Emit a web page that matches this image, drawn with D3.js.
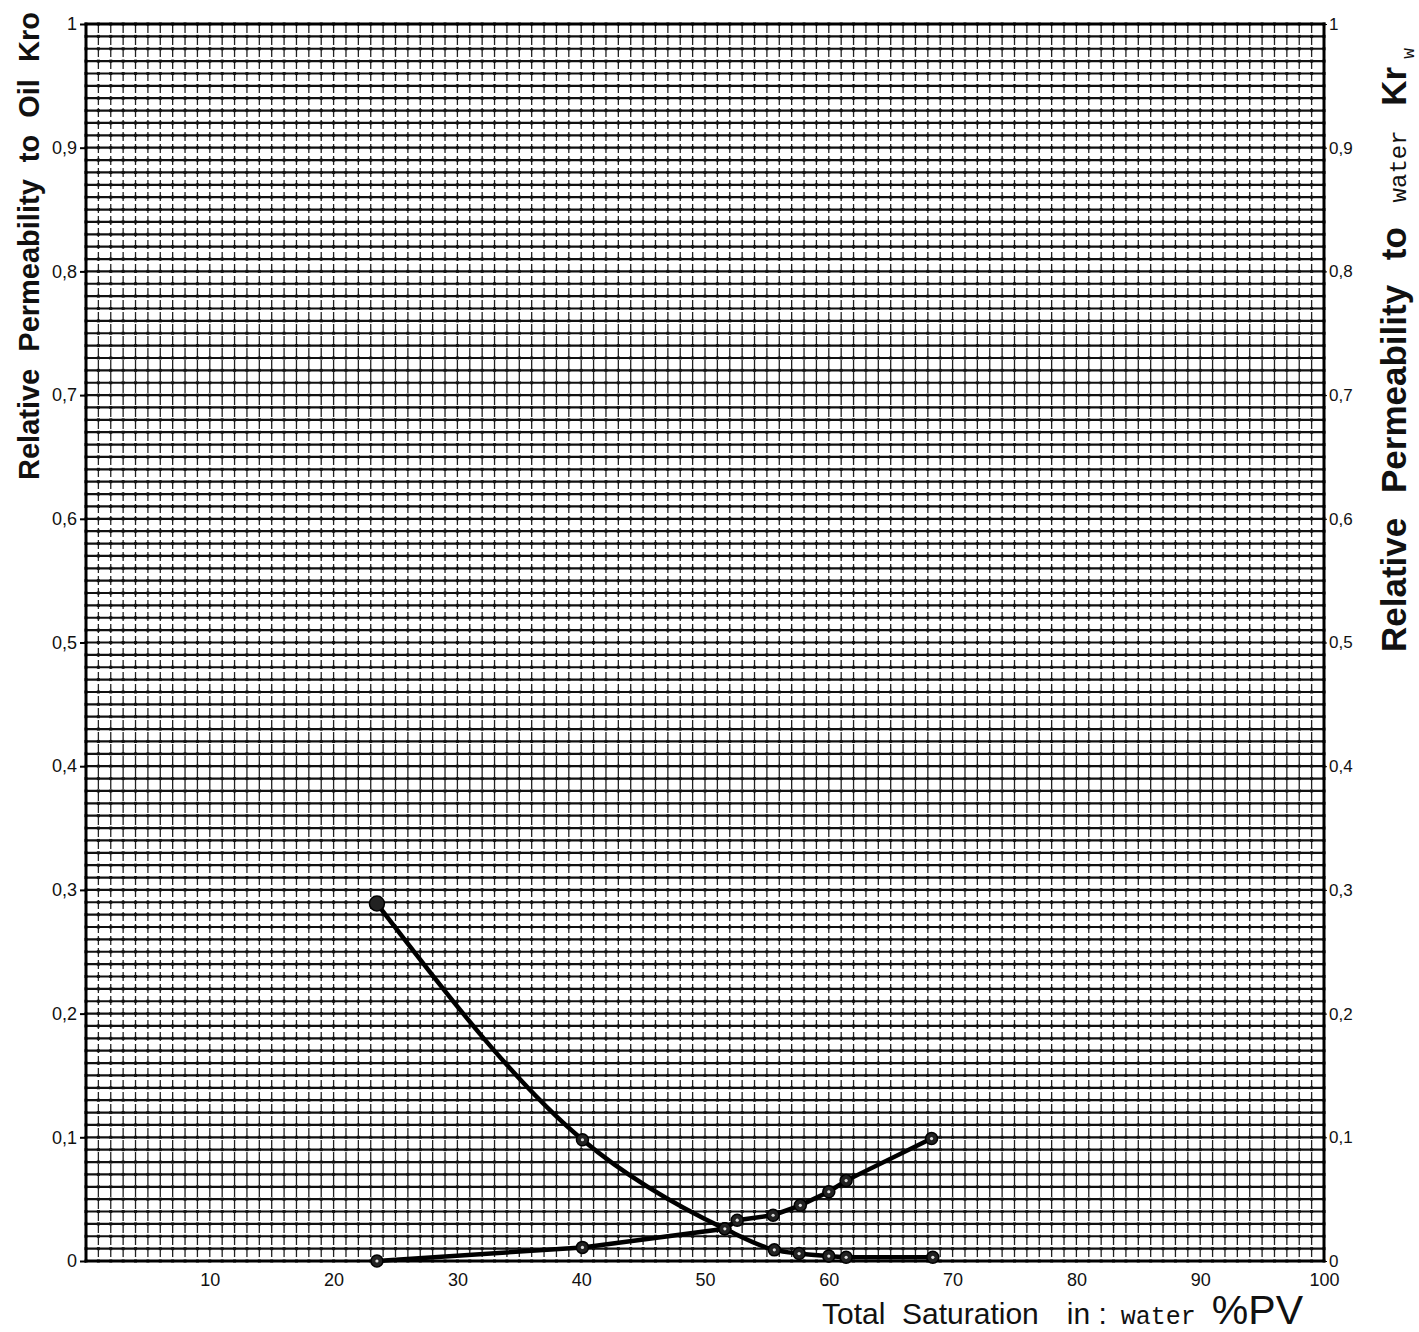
<!DOCTYPE html>
<html>
<head>
<meta charset="utf-8">
<title>Relative Permeability</title>
<script src="https://cdnjs.cloudflare.com/ajax/libs/d3/7.8.5/d3.min.js"></script>
<style>
  body { margin: 0; background: #fff; }
  text { fill: #111; }
</style>
</head>
<body>
<div id="chart"></div>
<script>
// values
var satOil = [23.5, 40.1, 51.6, 55.6, 57.6, 60.0, 61.4, 68.4];
var kro    = [0.289, 0.098, 0.026, 0.009, 0.006, 0.004, 0.003, 0.003];
var satWater = [23.5, 40.1, 51.6, 52.6, 55.5, 57.7, 60.0, 61.4, 68.3];
var krw      = [0.0, 0.011, 0.026, 0.033, 0.037, 0.045, 0.056, 0.065, 0.099];

var xTicks = [10, 20, 30, 40, 50, 60, 70, 80, 90, 100];
var yTicks = [0, 0.1, 0.2, 0.3, 0.4, 0.5, 0.6, 0.7, 0.8, 0.9, 1];

var W = 1419, H = 1332;
var margin = {top: 24, right: 95, bottom: 71, left: 86};
var width = W - margin.left - margin.right;
var height = H - margin.top - margin.bottom;

var svg = d3.select("#chart").append("svg")
    .attr("width", W).attr("height", H)
    .style("font-family", "'DejaVu Sans', sans-serif");

var g = svg.append("g").attr("transform", "translate(" + margin.left + "," + margin.top + ")");

var x = d3.scaleLinear().domain([0, 100]).range([0, width]);
var y = d3.scaleLinear().domain([0, 1]).range([height, 0]);

var fmt = function(v) {
  if (v === 0 || v === 1) return String(v);
  return d3.format(".1f")(v).replace(".", ",");
};

// graph paper grid, 1% by 0.01
var steps = d3.range(0, 101);
g.append("g").selectAll("line").data(steps).enter().append("line")
  .attr("x1", function(d) { return x(d); }).attr("x2", function(d) { return x(d); })
  .attr("y1", 0).attr("y2", height)
  .attr("stroke", "#222").attr("stroke-width", 1.3)
  .attr("stroke-dasharray", "9,3");
g.append("g").selectAll("line").data(steps).enter().append("line")
  .attr("y1", function(d) { return y(d / 100); }).attr("y2", function(d) { return y(d / 100); })
  .attr("x1", 0).attr("x2", width)
  .attr("stroke", "#111").attr("stroke-width", 2.2);

// knots at the crossings
var knots = [];
steps.forEach(function(i) { steps.forEach(function(j) { knots.push([i, j]); }); });
g.append("g").selectAll("rect").data(knots).enter().append("rect")
  .attr("x", function(d) { return x(d[0]) - 1.5; })
  .attr("y", function(d) { return y(d[1] / 100) - 1.5; })
  .attr("width", 3).attr("height", 3).attr("fill", "#111");

// frame
g.append("rect").attr("width", width).attr("height", height)
  .attr("fill", "none").attr("stroke", "#000").attr("stroke-width", 3);

// left axis
var yAxisL = d3.axisLeft(y).tickValues(yTicks).tickFormat(fmt).tickSize(6).tickPadding(3);
g.append("g").call(yAxisL)
  .call(function(s) { s.select(".domain").remove(); })
  .call(function(s) { s.selectAll("text").style("font-size", "18px").attr("fill", "#111"); s.selectAll("line").attr("stroke-width", 2); });

// right axis
var yAxisR = d3.axisRight(y).tickValues(yTicks).tickFormat(fmt).tickSize(3).tickPadding(2);
g.append("g").attr("transform", "translate(" + width + ",0)").call(yAxisR)
  .call(function(s) { s.select(".domain").remove(); })
  .call(function(s) { s.selectAll("text").style("font-size", "17px").attr("fill", "#222"); });

// bottom axis
var xAxis = d3.axisBottom(x).tickValues(xTicks).tickSize(0).tickPadding(12);
g.append("g").attr("transform", "translate(0," + height + ")").call(xAxis)
  .call(function(s) { s.select(".domain").remove(); })
  .call(function(s) { s.selectAll("text").style("font-size", "18px").attr("fill", "#222"); });

// curves
var oilPts = satOil.map(function(s, i) { return [s, kro[i]]; });
var waterPts = satWater.map(function(s, i) { return [s, krw[i]]; });

var line = d3.line()
  .x(function(d) { return x(d[0]); })
  .y(function(d) { return y(d[1]); })
  .curve(d3.curveMonotoneX);

g.append("path").datum(oilPts).attr("d", line)
  .attr("fill", "none").attr("stroke", "#000").attr("stroke-width", 4.5);
g.append("path").datum(waterPts).attr("d", line.curve(d3.curveLinear))
  .attr("fill", "none").attr("stroke", "#000").attr("stroke-width", 4.5);

function markers(pts, big) {
  var m = g.append("g").selectAll("g").data(pts).enter().append("g")
    .attr("transform", function(d) { return "translate(" + x(d[0]) + "," + y(d[1]) + ")"; });
  m.append("circle")
    .attr("r", function(d, i) { return (big && i === 0) ? 7.5 : 6; })
    .attr("fill", "#222").attr("stroke", "#000").attr("stroke-width", 1.5);
  m.filter(function(d, i) { return !(big && i === 0); }).append("circle")
    .attr("r", 1.6).attr("fill", "#ddd");
}
markers(oilPts, true);
markers(waterPts, false);

// axis titles
svg.append("text")
  .attr("transform", "translate(39,480) rotate(-90)")
  .style("font-family", "'Liberation Sans', Arial, sans-serif")
  .style("font-weight", "bold").style("font-size", "29px")
  .style("word-spacing", "9px")
  .text("Relative Permeability to Oil Kro");

var rt = svg.append("text")
  .attr("transform", "translate(1406,652) rotate(-90)")
  .style("font-family", "'Liberation Sans', Arial, sans-serif")
  .style("font-weight", "bold").style("font-size", "35px")
  .style("word-spacing", "15px")
  .attr("xml:space", "preserve");
rt.append("tspan").text("Relative Permeability to ");
rt.append("tspan").style("font-family", "'Liberation Mono', monospace").style("font-weight", "normal")
  .style("font-size", "24px").text("water");
rt.append("tspan").text(" Kr");
rt.append("tspan").style("font-family", "'Liberation Mono', monospace").style("font-weight", "normal")
  .style("font-size", "18px").attr("dx", 8).attr("dy", 8).text("w");

var bt = svg.append("text")
  .attr("x", 822).attr("y", 1324)
  .style("font-family", "'Liberation Sans', Arial, sans-serif")
  .style("font-size", "30px")
  .attr("xml:space", "preserve");
bt.append("tspan").text("Total  Saturation");
bt.append("tspan").attr("dx", 28).text("in :");
bt.append("tspan").attr("dx", 14).style("font-family", "'Liberation Mono', monospace").style("font-size", "25px").text("water");
bt.append("tspan").attr("dx", 16).style("font-size", "41px").text("%PV");
</script>
</body>
</html>
